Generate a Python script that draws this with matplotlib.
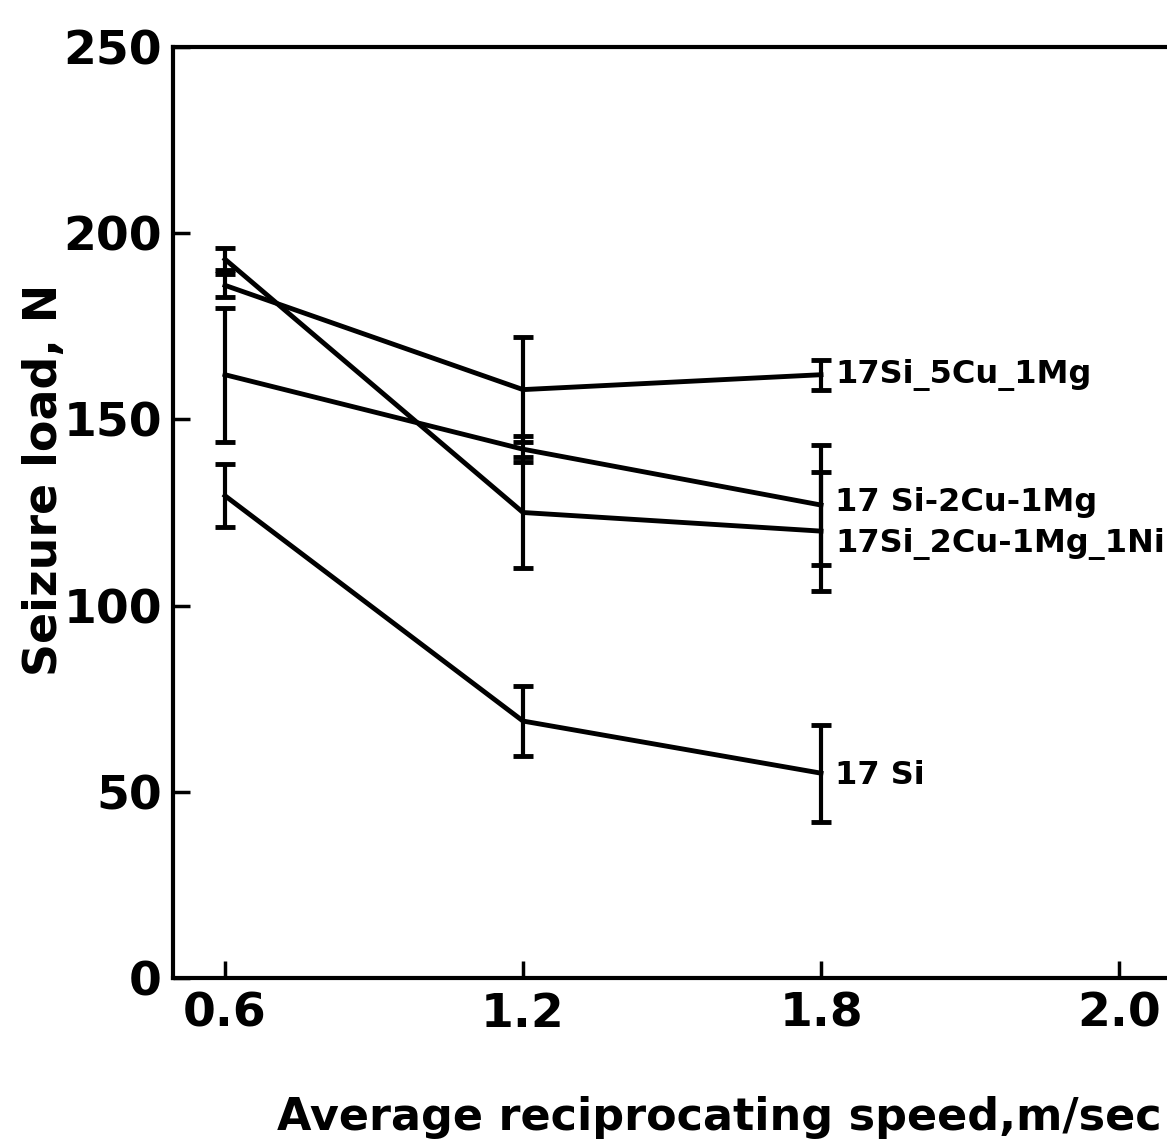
import matplotlib.pyplot as plt

# ---------------- Data ----------------
speed_labels = ["0.6", "1.2", "1.8", "2.0"]
speed_pos = [0, 1, 2, 3]          # ticks are evenly spaced in the original

si5cu1mg = [186, 158, 162]
si5cu1mg_err = [3, 14, 4]

si2cu1mg = [162, 142, 127]
si2cu1mg_err = [18, 3.5, 16]

si2cu1mg1ni = [193, 125, 120]
si2cu1mg1ni_err = [3, 15, 16]

si17 = [129.5, 69, 55]
si17_err = [8.5, 9.5, 13]

series_names = ["17Si_5Cu_1Mg", "17 Si-2Cu-1Mg", "17Si_2Cu-1Mg_1Ni", "17 Si"]
yticks = [0, 50, 100, 150, 200, 250]

# ---------------- Figure ----------------
W, H = 1167, 1142
fig = plt.figure(figsize=(W / 100, H / 100), dpi=100)
ax = fig.add_axes([173 / W, 1 - 978 / H, 1 - 173 / W, (978 - 47) / H])

font = ["DejaVu Sans Condensed", "DejaVu Sans"]

series = [
    (si5cu1mg, si5cu1mg_err),
    (si2cu1mg, si2cu1mg_err),
    (si2cu1mg1ni, si2cu1mg1ni_err),
    (si17, si17_err),
]
label_dy = [0, 2, -9, -2]  # small vertical nudges (points) for end labels

x = speed_pos[:3]
for (vals, errs), name, dy in zip(series, series_names, label_dy):
    ax.errorbar(x, vals, yerr=errs, color="black", lw=3.5, elinewidth=3,
                capsize=7, capthick=3.5)
    ax.annotate(name, xy=(x[-1], vals[-1]), xytext=(10, dy),
                textcoords="offset points", va="center", ha="left",
                fontsize=23, fontweight="bold", family=font)

ax.set_xlim(-0.1745, 3.161)
ax.set_ylim(0, 250)
ax.set_xticks(speed_pos)
ax.set_xticklabels(speed_labels)
ax.set_yticks(yticks)

for lab in ax.get_xticklabels() + ax.get_yticklabels():
    lab.set_family(font)
    lab.set_fontweight("bold")
    lab.set_fontsize(34)

ax.tick_params(direction="in", length=12, width=2.5, pad=8)
ax.tick_params(axis="x", pad=10)
ax.spines["right"].set_visible(False)
for s in ["left", "bottom", "top"]:
    ax.spines[s].set_linewidth(3)

fig.text(45 / W, 1 - 480 / H, "Seizure load, N", rotation=90,
         ha="center", va="center", fontsize=33, fontweight="bold",
         family=font)
fig.text(719 / W, 1 - 1130 / H, "Average reciprocating speed,m/sec",
         ha="center", va="baseline", fontsize=32, fontweight="bold",
         family=font)

fig.savefig("out.png", dpi=100)
